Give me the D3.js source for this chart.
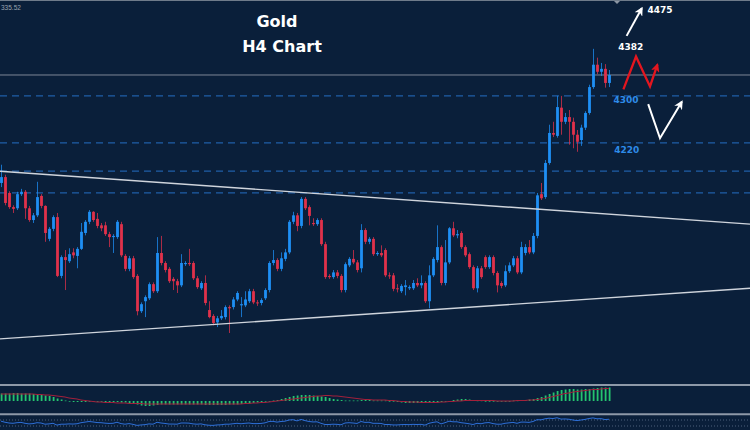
<!DOCTYPE html>
<html>
<head>
<meta charset="utf-8">
<script src="https://cdn.jsdelivr.net/npm/d3@7"></script>
<style>
  body { margin: 0; background: #0a1f3a; }
  svg { display: block; }
</style>
</head>
<body>
<div id="chart"></div>
<script>
// H4 candles (one entry per bar)
const openP = [
  4152,4162,4135,4111,4109,4133,4137,4109,4089,4097,
  4130,4113,4057,4074,4094,3994,4026,4019,4034,4028,
  4040,4067,4086,4103,4091,4080,4080,4065,4060,4060,
  4082,4028,4006,4024,3994,3934,3951,3956,3980,3968,
  4033,4016,4006,3989,3985,3978,4014,4016,4016,3990,
  3973,3982,3936,3926,3915,3922,3924,3941,3941,3954,
  3944,3944,3951,3968,3949,3948,3956,3970,4016,4021,
  4006,4023,4034,4086,4097,4079,4125,4111,4084,4082,
  4089,4048,3994,3992,4000,3994,3970,4012,4023,4017,
  4007,4072,4052,4057,4031,4033,4038,3995,3995,3973,
  3968,3975,3973,3973,3982,3978,3982,3951,3995,4021,
  4043,3982,4017,4075,4063,4067,4043,4031,4009,3973,
  4007,4026,4009,4026,3999,3982,3978,4002,4012,4024,
  4000,4033,4043,4034,4062,4133,4128,4186,4237,4232,
  4280,4256,4264,4256,4234,4225,4246,4271,4315,4353,
  4341,4346,4322
];
const highP = [
  4183,4166,4138,4114,4137,4142,4140,4113,4101,4154,
  4133,4114,4077,4097,4101,4029,4038,4041,4041,4043,
  4084,4089,4106,4104,4101,4084,4086,4069,4065,4089,
  4086,4031,4028,4028,3997,3949,3961,3983,3983,4060,
  4062,4019,4009,3992,3989,4031,4019,4040,4019,3994,
  3985,3995,3951,3929,3926,3936,3944,3944,3958,3968,
  3958,3968,3972,3972,3953,3956,3973,4019,4038,4024,
  4034,4040,4089,4103,4101,4128,4128,4114,4092,4092,
  4092,4052,3997,4004,4004,3997,4017,4026,4038,4021,
  4082,4075,4060,4060,4036,4046,4041,4000,3999,3980,
  3980,3987,3978,3987,3990,3995,3985,4012,4026,4080,
  4046,4055,4077,4086,4072,4070,4046,4034,4012,4011,
  4011,4029,4029,4029,4002,3985,4012,4017,4028,4028,
  4052,4048,4055,4067,4135,4152,4191,4251,4256,4300,
  4300,4271,4276,4263,4242,4251,4274,4319,4380,4365,
  4356,4354,4344
];
const lowP = [
  4145,4114,4108,4101,4106,4130,4091,4086,4084,4094,
  4109,4052,4053,4070,3992,3990,3970,4016,4024,4007,
  4038,4063,4082,4086,4075,4070,4062,4043,4033,4057,
  4026,4002,4002,3989,3927,3931,3924,3953,3965,3965,
  4012,4000,3982,3970,3965,3975,4011,4011,3987,3972,
  3970,3944,3922,3910,3907,3919,3920,3897,3937,3951,
  3924,3941,3948,3946,3943,3944,3953,3966,4012,4002,
  4002,4019,4031,4082,4070,4075,4106,4080,4079,4079,
  4045,3989,3989,3989,3990,3966,3966,4009,4014,4000,
  4000,4048,4048,4028,4028,4026,3992,3989,3968,3966,
  3965,3961,3970,3970,3975,3973,3948,3939,3992,4017,
  3978,3978,4014,4060,4058,4040,4026,4006,3970,3966,
  3989,4006,4006,3995,3966,3973,3975,3999,4009,3997,
  3997,4029,4031,4031,4058,4123,4125,4183,4230,4229,
  4234,4252,4217,4211,4205,4215,4242,4268,4312,4337,
  4334,4314,4315
];
const closeP = [
  4162,4118,4111,4108,4133,4137,4109,4089,4097,4128,
  4113,4067,4074,4094,3994,4026,4021,4031,4029,4040,
  4069,4086,4103,4089,4079,4075,4065,4060,4062,4086,
  4029,4006,4024,3992,3934,3946,3958,3980,3968,4033,
  4016,4004,3985,3985,3978,4016,4016,4014,3990,3975,
  3982,3948,3924,3914,3922,3926,3941,3939,3954,3965,
  3946,3954,3968,3949,3948,3953,3970,4016,4021,4006,
  4024,4034,4086,4097,4079,4125,4109,4096,4082,4089,
  4048,3992,3992,4000,3994,3970,4014,4023,4017,4004,
  4072,4052,4057,4031,4033,4029,3995,3994,3972,3972,
  3977,3978,3975,3982,3978,3982,3951,3995,4023,4043,
  3982,4017,4075,4063,4065,4043,4029,4009,3973,4007,
  3992,4009,4026,3999,3978,3977,4002,4012,4024,4000,
  4043,4043,4034,4062,4131,4126,4186,4237,4234,4281,
  4256,4264,4256,4234,4222,4246,4271,4315,4353,4341,
  4346,4322,4335.52
];

// oscillator panel: histogram and its signal line
const histVals = [
  15,15,15,16,16,15,15,15,14,13,
  12,11,10,8,5,3,1,-1,-2,-2,
  -2,-2,-1,-1,-1,-1,-2,-2,-2,-2,
  -3,-3,-4,-5,-7,-9,-10,-10,-9,-8,
  -7,-7,-7,-7,-7,-7,-7,-7,-7,-7,
  -7,-8,-8,-8,-8,-8,-8,-7,-7,-7,
  -6,-6,-5,-4,-3,-2,-1,0,1,2,
  4,6,8,10,11,12,12,12,11,10,
  9,8,6,4,3,2,1,1,1,1,
  2,2,2,1,1,1,1,0,-1,-2,
  -3,-4,-4,-4,-4,-4,-4,-3,-3,-3,
  -2,-1,0,2,3,4,4,3,2,1,
  1,0,0,0,0,0,0,0,1,1,
  2,2,3,4,6,8,11,14,17,20,
  22,23,24,24,23,23,24,24,25,26,
  27,27,27
];
const signalVals = [
  14,14,14,14,14,14,14,14,14,13,
  13,12,12,11,10,9,8,6,5,4,
  2,1,0,-1,-2,-2,-3,-3,-3,-4,
  -4,-4,-5,-5,-5,-5,-6,-6,-6,-6,
  -6,-6,-6,-6,-6,-6,-6,-6,-6,-6,
  -6,-6,-6,-6,-6,-6,-6,-6,-6,-6,
  -6,-5,-5,-4,-4,-3,-3,-2,-1,0,
  1,2,3,4,5,6,7,8,9,10,
  10,11,11,10,10,9,8,7,6,5,
  4,3,3,2,2,2,2,1,1,0,
  -1,-1,-2,-2,-2,-3,-3,-3,-3,-3,
  -2,-2,-1,-1,0,0,1,1,1,1,
  1,1,1,1,0,0,0,0,0,1,
  1,1,2,2,3,4,5,7,9,11,
  13,15,16,18,19,20,21,22,23,23,
  24,25,25
];
// bottom strip line
const rsiVals = [
  62,55,50,48,52,54,48,44,46,52,
  50,42,44,48,36,42,42,44,43,45,
  52,56,60,57,53,52,49,47,48,55,
  46,42,46,41,34,37,39,44,42,55,
  50,47,43,43,42,50,50,49,44,42,
  44,38,35,34,37,38,42,42,45,48,
  45,48,50,46,46,47,51,60,61,56,
  60,62,70,72,64,74,66,60,57,58,
  48,40,40,42,41,38,50,52,50,47,
  60,54,55,48,48,47,40,40,37,37,
  39,40,39,41,40,41,36,48,54,58,
  44,52,62,58,58,52,49,45,40,48,
  45,51,53,46,42,42,48,51,54,48,
  56,56,54,60,72,71,78,82,80,85,
  76,77,75,70,66,70,74,80,84,78,
  79,73,75
];
const rsiLevels = [70, 30];

// horizontal levels and trendlines (bar index, price)
const levels = [4300, 4220, 4172, 4135];
const lastPrice = 4335.52;
const priceTag = "335.52"; // what is left visible of the price tag at the top left
const upperTrend = [[-0.25, 4172], [187.25, 4082]];
const lowerTrend = [[-0.25, 3887], [187.25, 3973]];

// drawn annotations (bar index, price)
const upArrow = [[156.4, 4402], [160.2, 4449]];
const redZigzag = [[155.6, 4311], [158.75, 4367], [162.25, 4316], [164.1, 4353]];
const whiteV = [[161.8, 4286], [164.75, 4228], [170.2, 4290]];
const whiteLabels = [
  { text: "4475", i: 161.6, p: 4441, anchor: "start" },
  { text: "4382", i: 157.45, p: 4378, anchor: "middle" }
];
const levelLabels = [
  { text: "4300", i: 153.1, p: 4288 },
  { text: "4220", i: 153.3, p: 4203.5 }
];

const W = 750, H = 430;

const svg = d3.select("#chart")
    .append("svg")
    .attr("width", W)
    .attr("height", H)
    .style("background", "#0a1f3a");

const x = d3.scaleLinear().domain([0, closeP.length - 1]).range([1, 609]);
const y = d3.scaleLinear().domain([3812, 4463]).range([383, 0]);

const defs = svg.append("defs");
defs.append("clipPath").attr("id", "mainClip")
    .append("rect").attr("x", 0).attr("y", 1).attr("width", W).attr("height", 383);

function addMarker(id, color) {
    defs.append("marker")
        .attr("id", id)
        .attr("markerUnits", "userSpaceOnUse")
        .attr("markerWidth", 9)
        .attr("markerHeight", 9)
        .attr("viewBox", "0 0 10 10")
        .attr("refX", 8)
        .attr("refY", 5)
        .attr("orient", "auto")
        .append("path")
        .attr("d", "M0,0 L10,5 L0,10 L3,5 Z")
        .attr("fill", color);
}
addMarker("arrowWhite", "#ffffff");
addMarker("arrowRed", "#e3161f");

const main = svg.append("g").attr("clip-path", "url(#mainClip)");

// top border and shift marker
svg.append("line")
    .attr("x1", 0).attr("x2", W).attr("y1", 0.5).attr("y2", 0.5)
    .attr("stroke", "#6f7b8a").attr("stroke-width", 1);
svg.append("path")
    .attr("d", `M${x(154) - 3},1 L${x(154) + 3},1 L${x(154)},4 Z`)
    .attr("fill", "#8c96a3");

// dashed levels
main.selectAll(".level")
    .data(levels)
    .enter()
    .append("line")
    .attr("class", "level")
    .attr("x1", 0).attr("x2", W)
    .attr("y1", d => y(d)).attr("y2", d => y(d))
    .attr("stroke", "#1f5fa8")
    .attr("stroke-width", 1.3)
    .attr("stroke-dasharray", "7,5");

// bid line
main.append("line")
    .attr("x1", 0).attr("x2", W)
    .attr("y1", y(lastPrice)).attr("y2", y(lastPrice))
    .attr("stroke", "#7d8796")
    .attr("stroke-width", 1);

svg.append("text")
    .attr("x", 1)
    .attr("y", 10)
    .style("font-family", "'Liberation Sans', Arial, sans-serif")
    .style("font-size", "6.5px")
    .attr("fill", "#9aa4b0")
    .text(priceTag);

// candles
const candles = closeP.map((c, i) => ({ i, o: openP[i], h: highP[i], l: lowP[i], c }));
const upCol = "#1e8ff5", downCol = "#e0314b";

const cg = main.selectAll(".candle")
    .data(candles)
    .enter()
    .append("g")
    .attr("class", "candle");

cg.append("line")
    .attr("x1", d => x(d.i) + 0.5).attr("x2", d => x(d.i) + 0.5)
    .attr("y1", d => y(d.h)).attr("y2", d => y(d.l))
    .attr("stroke", d => d.c >= d.o ? upCol : downCol)
    .attr("stroke-opacity", 0.75)
    .attr("stroke-width", 1);

cg.append("rect")
    .attr("x", d => x(d.i) - 0.9)
    .attr("width", 2.8)
    .attr("y", d => y(Math.max(d.o, d.c)))
    .attr("height", d => Math.max(1, Math.abs(y(d.o) - y(d.c))))
    .attr("fill", d => d.c >= d.o ? upCol : downCol);

// trendlines
const priceLine = d3.line().x(d => x(d[0])).y(d => y(d[1]));
[upperTrend, lowerTrend].forEach(t => {
    main.append("path")
        .datum(t)
        .attr("d", priceLine)
        .attr("fill", "none")
        .attr("stroke", "#cfd4dc")
        .attr("stroke-width", 1.4);
});

// annotations
main.append("path")
    .datum(upArrow)
    .attr("d", priceLine)
    .attr("fill", "none")
    .attr("stroke", "#ffffff")
    .attr("stroke-width", 2)
    .attr("marker-end", "url(#arrowWhite)");

main.append("path")
    .datum(redZigzag)
    .attr("d", priceLine)
    .attr("fill", "none")
    .attr("stroke", "#e3161f")
    .attr("stroke-width", 2.3)
    .attr("stroke-linejoin", "miter")
    .attr("marker-end", "url(#arrowRed)");

main.append("path")
    .datum(whiteV)
    .attr("d", priceLine)
    .attr("fill", "none")
    .attr("stroke", "#ffffff")
    .attr("stroke-width", 2)
    .attr("marker-end", "url(#arrowWhite)");

main.selectAll(".wlabel")
    .data(whiteLabels)
    .enter()
    .append("text")
    .attr("x", d => x(d.i))
    .attr("y", d => y(d.p))
    .attr("text-anchor", d => d.anchor)
    .style("font-family", "'DejaVu Sans', sans-serif")
    .style("font-weight", "bold")
    .style("font-size", "9px")
    .attr("fill", "#ffffff")
    .text(d => d.text);

main.selectAll(".llabel")
    .data(levelLabels)
    .enter()
    .append("text")
    .attr("x", d => x(d.i))
    .attr("y", d => y(d.p))
    .style("font-family", "'DejaVu Sans', sans-serif")
    .style("font-weight", "bold")
    .style("font-size", "9px")
    .attr("fill", "#2e8be8")
    .text(d => d.text);

// title
svg.append("text")
    .attr("x", 277).attr("y", 27)
    .attr("text-anchor", "middle")
    .style("font-family", "'DejaVu Sans', sans-serif")
    .style("font-weight", "bold")
    .style("font-size", "16px")
    .attr("fill", "#ffffff")
    .text("Gold");

svg.append("text")
    .attr("x", 282).attr("y", 52)
    .attr("text-anchor", "middle")
    .style("font-family", "'DejaVu Sans', sans-serif")
    .style("font-weight", "bold")
    .style("font-size", "16px")
    .attr("fill", "#ffffff")
    .text("H4 Chart");

// oscillator panel
const m = d3.scaleLinear().domain([-30, 30]).range([416, 386]);

svg.selectAll(".hist")
    .data(histVals)
    .enter()
    .append("rect")
    .attr("class", "hist")
    .attr("x", (d, i) => x(i) - 0.3)
    .attr("width", 1.8)
    .attr("y", d => Math.min(m(d), m(0)))
    .attr("height", d => Math.max(0.7, Math.abs(m(d) - m(0))))
    .attr("fill", "#25c46f");

svg.append("path")
    .datum(signalVals)
    .attr("d", d3.line().x((d, i) => x(i)).y(d => m(d)))
    .attr("fill", "none")
    .attr("stroke", "#a3203b")
    .attr("stroke-width", 1);

// bottom strip
const r = d3.scaleLinear().domain([30, 70]).range([426, 420]);

svg.selectAll(".rlevel")
    .data(rsiLevels)
    .enter()
    .append("line")
    .attr("x1", 0).attr("x2", W)
    .attr("y1", d => r(d)).attr("y2", d => r(d))
    .attr("stroke", "#4d617a")
    .attr("stroke-width", 1)
    .attr("stroke-dasharray", "1,2");

svg.append("path")
    .datum(rsiVals)
    .attr("d", d3.line().x((d, i) => x(i)).y(d => r(d)))
    .attr("fill", "none")
    .attr("stroke", "#2d6fd8")
    .attr("stroke-width", 1);

// panel separators
[385, 414.3].forEach(py => {
    svg.append("line")
        .attr("x1", 0).attr("x2", W)
        .attr("y1", py).attr("y2", py)
        .attr("stroke", "#8e99a8")
        .attr("stroke-width", 2);
});
</script>
</body>
</html>
